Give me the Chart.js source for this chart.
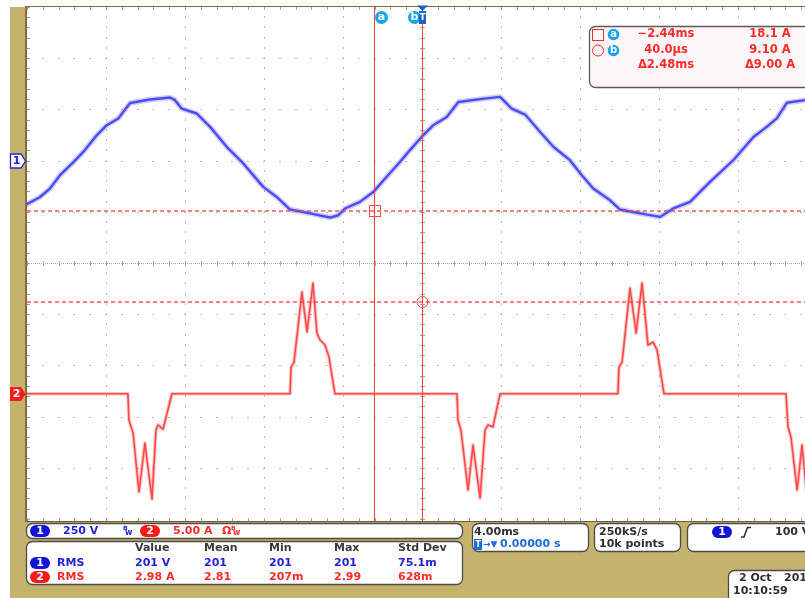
<!DOCTYPE html>
<html>
<head>
<meta charset="utf-8">
<script src="https://cdn.jsdelivr.net/npm/chart.js@4/dist/chart.umd.min.js"></script>
<style>
  html, body { margin: 0; padding: 0; background: #fff; overflow: hidden; }
  canvas { display: block; }
</style>
</head>
<body>
<canvas id="scope" width="805" height="598"></canvas>
<script>
// ---- Acquisition: channel 1 (line voltage, V) against time (ms) ----
const ch1Time = [-20.0, -19.34, -18.84, -18.33, -17.66, -17.15, -16.47, -15.96, -15.38, -14.78,
  -13.77, -12.76, -12.51, -12.17, -11.41, -10.73, -9.89, -9.05, -8.04, -7.36,
  -6.68, -5.67, -4.66, -4.24, -3.90, -3.14, -2.46, -1.79, -1.11, -0.61,
  -0.02, 0.57, 1.25, 1.84, 2.94, 3.95, 4.54, 5.22, 5.97, 6.65,
  7.49, 8.09, 8.67, 9.52, 10.03, 11.04, 12.05, 12.72, 13.57, 14.58,
  15.76, 16.78, 17.45, 17.96, 18.47, 19.39, 20.0];
const ch1Volts = [-209, -174, -133, -68, -6, 45, 126, 175, 208, 283,
  300, 310, 297, 256, 232, 167, 70, -11, -125, -174,
  -235, -254, -274, -263, -230, -198, -149, -76, -3, 54,
  118, 175, 215, 288, 302, 313, 256, 227, 143, 70,
  5, -68, -133, -190, -235, -254, -271, -230, -198, -101,
  5, 118, 167, 208, 284, 297, 302];

// ---- Channel 2 (input current, A) against time (ms) ----
const ch2Time = [-20.0,
  -14.89, -14.84, -14.63, -14.33, -14.03, -13.67, -13.47, -13.37, -13.11, -12.66,
  -6.68, -6.63, -6.48, -6.08, -5.82, -5.52, -5.32, -5.16, -4.91, -4.71, -4.41,
  1.77, 1.82, 1.97, 2.33, 2.58, 2.94, 3.19, 3.34, 3.59, 3.95,
  9.92, 9.97, 10.13, 10.53, 10.84, 11.14, 11.44, 11.70, 11.90, 12.25,
  18.43, 18.53, 18.68, 18.99, 19.24, 19.49, 19.75, 20.0];
const ch2Amps = [0,
  0, -2.60, -3.89, -9.73, -4.88, -10.43, -3.59, -3.09, -3.49, 0,
  0, 2.64, 3.14, 10.07, 6.11, 10.96, 6.01, 5.32, 4.82, 3.63, 0,
  0, -2.60, -3.59, -9.53, -5.08, -10.33, -3.59, -3.09, -3.29, 0,
  0, 2.64, 3.14, 10.47, 6.01, 10.96, 4.82, 5.12, 4.33, 0,
  0, -3.30, -4.29, -9.53, -5.08, -10.23, -3.80, -3.10];

// ---- Cursors (time in ms, level in A on channel 2) ----
const cursorTimes = [-2.44, 0.04];
const cursorAmps = [18.1, 9.10];
const readoutTimes = ['\u22122.44ms', '40.0\u00b5s', '\u03942.48ms'];
const readoutAmps = ['18.1 A', '9.10 A', '\u03949.00 A'];

// ---- Measurement table ----
const measHeaders = ['Value', 'Mean', 'Min', 'Max', 'Std Dev'];
const ch1Meas = ['201 V', '201', '201', '201', '75.1m'];
const ch2Meas = ['2.98 A', '2.81', '207m', '2.99', '628m'];

// ---- Setup readouts ----
const ch1Scale = '250 V';
const ch2Scale = '5.00 A';
const timebase = '4.00ms';
const trigPos = '0.00000 s';
const sampleRate = ['250kS/s', '10k points'];
const trigLevel = '100 V';
const dateDay = '2 Oct';
const dateYear = '2014';
const timeStamp = '10:10:59';

// Horizontal: 4 ms/div, 10 divisions centred on the trigger; window shows up to 19.39 ms
const T_DIV = 4, T_MIN = -20, T_VIEW_MAX = 19.39;

const GOLD = '#c5b36d';
const BROWN = '#8a6b3f';
const BLUE = '#2222dd';
const RED = '#ff2a2a';
const FONT = '"DejaVu Sans", sans-serif';

function pill(ctx, cx, cy, fill, label) {
  ctx.fillStyle = fill;
  ctx.beginPath();
  ctx.roundRect(cx - 10, cy - 6, 20, 12, 6);
  ctx.fill();
  ctx.fillStyle = '#fff';
  ctx.font = 'bold 11px ' + FONT;
  ctx.textAlign = 'center';
  ctx.textBaseline = 'middle';
  ctx.fillText(label, cx, cy + 0.5);
}

function box(ctx, x, y, w, h, r, fill, stroke) {
  ctx.beginPath();
  ctx.roundRect(x, y, w, h, r);
  ctx.fillStyle = fill;
  ctx.fill();
  ctx.lineWidth = 1.3;
  ctx.strokeStyle = stroke;
  ctx.stroke();
}

function bwIcon(ctx, x, y, color) {
  ctx.fillStyle = color;
  ctx.textAlign = 'left';
  ctx.textBaseline = 'middle';
  ctx.font = 'bold 6px ' + FONT;
  ctx.fillText('B', x, y - 3);
  ctx.font = 'bold 8px ' + FONT;
  ctx.fillText('w', x + 2, y + 2);
}

// Bezel and plot background
const bezel = {
  id: 'bezel',
  beforeDraw(chart) {
    const { ctx, chartArea: ca, width, height } = chart;
    ctx.save();
    ctx.fillStyle = '#fff';
    ctx.fillRect(0, 0, width, height);
    ctx.fillStyle = GOLD;
    ctx.fillRect(10, ca.top, width - 10, height - ca.top);
    ctx.fillStyle = '#fff';
    ctx.fillRect(ca.left, ca.top, ca.right - ca.left, ca.bottom - ca.top);
    ctx.fillStyle = BROWN;
    ctx.fillRect(ca.left - 2, ca.top - 1, 2, ca.bottom - ca.top + 2);
    ctx.fillRect(ca.left - 2, ca.top - 1, width, 1);
    ctx.fillStyle = '#6f5a3a';
    ctx.fillRect(ca.left - 2, ca.bottom, width, 1);
    ctx.restore();
  }
};

// Dotted graticule with centre cross and edge ticks
const graticule = {
  id: 'graticule',
  beforeDatasetsDraw(chart) {
    const { ctx, chartArea: ca, scales: { x, div } } = chart;
    ctx.save();
    ctx.beginPath();
    ctx.rect(ca.left, ca.top, ca.right - ca.left, ca.bottom - ca.top);
    ctx.clip();
    const minorX = [];
    for (let m = 0; m <= 50; m++) minorX.push(Math.round(x.getPixelForValue(T_MIN + m * T_DIV / 5)));
    const minorY = [];
    for (let m = -25; m <= 25; m++) minorY.push(Math.round(div.getPixelForValue(m / 5)));

    ctx.fillStyle = '#bcbcbc';
    for (let k = 1; k < 10; k++) {
      if (k === 5) continue;
      const px = Math.round(x.getPixelForValue(T_MIN + k * T_DIV));
      minorY.forEach(py => ctx.fillRect(px, py - 1, 1, 2));
    }
    for (let d = -4; d <= 4; d++) {
      if (d === 0) continue;
      const py = Math.round(div.getPixelForValue(d));
      minorX.forEach(px => ctx.fillRect(px - 1, py, 2, 1));
    }
    // centre cross
    ctx.fillStyle = '#a4a6bd';
    const cy = Math.round(div.getPixelForValue(0));
    const cx = Math.round(x.getPixelForValue(0));
    for (let px = ca.left; px < ca.right; px += 2) ctx.fillRect(px, cy, 1, 1);
    for (let py = ca.top; py < ca.bottom; py += 2) ctx.fillRect(cx, py, 1, 1);
    minorX.forEach(px => ctx.fillRect(px, cy - 2, 1, 5));
    minorY.forEach(py => ctx.fillRect(cx - 2, py, 5, 1));
    // edge ticks
    ctx.fillStyle = '#a0a0a0';
    minorY.forEach(py => ctx.fillRect(ca.left, py, 3, 1));
    minorX.forEach(px => { ctx.fillRect(px, ca.top, 1, 3); ctx.fillRect(px, ca.bottom - 3, 1, 3); });
    ctx.restore();
  }
};

// Cursors, channel markers and the readout panels
const overlay = {
  id: 'overlay',
  afterDatasetsDraw(chart) {
    const { ctx, chartArea: ca, scales: { x, v, a } } = chart;
    ctx.save();
    const xa = Math.round(x.getPixelForValue(cursorTimes[0])) + 0.5;
    const xb = Math.round(x.getPixelForValue(cursorTimes[1])) - 0.5;
    const ya = Math.round(a.getPixelForValue(cursorAmps[0]));
    const yb = Math.round(a.getPixelForValue(cursorAmps[1]));

    ctx.lineWidth = 1;
    ctx.strokeStyle = 'rgba(255,60,60,1)';
    ctx.beginPath();
    ctx.moveTo(xa, ca.top); ctx.lineTo(xa, ca.bottom);
    ctx.moveTo(xb, ca.top); ctx.lineTo(xb, ca.bottom);
    ctx.stroke();
    ctx.setLineDash([4, 3]);
    ctx.lineWidth = 1.5;
    ctx.strokeStyle = 'rgba(255,60,60,0.85)';
    ctx.beginPath();
    ctx.moveTo(ca.left, ya); ctx.lineTo(ca.right, ya);
    ctx.moveTo(ca.left, yb); ctx.lineTo(ca.right, yb);
    ctx.stroke();
    ctx.setLineDash([]);
    ctx.lineWidth = 1;
    ctx.strokeStyle = '#ff4a4a';
    ctx.strokeRect(xa - 5, ya - 5.5, 11, 11);
    ctx.beginPath();
    ctx.arc(xb, yb, 5.5, 0, Math.PI * 2);
    ctx.stroke();

    // cursor flags on top
    ctx.fillStyle = '#14a6e8';
    ctx.beginPath(); ctx.arc(xa + 7, 17.5, 6.5, 0, Math.PI * 2); ctx.fill();
    ctx.beginPath(); ctx.arc(xb - 8, 17.5, 6.5, 0, Math.PI * 2); ctx.fill();
    ctx.fillStyle = '#fff';
    ctx.font = 'bold 11px ' + FONT;
    ctx.textAlign = 'center';
    ctx.textBaseline = 'middle';
    ctx.fillText('a', xa + 7, 17);
    ctx.fillText('b', xb - 8, 17);
    ctx.fillStyle = '#1763c4';
    ctx.fillRect(xb - 3.5, 11, 7, 13);
    ctx.beginPath();
    ctx.moveTo(xb - 5.5, 5.5); ctx.lineTo(xb + 5.5, 5.5); ctx.lineTo(xb, 11); ctx.closePath();
    ctx.fill();
    ctx.fillStyle = '#fff';
    ctx.font = 'bold 9px ' + FONT;
    ctx.fillText('T', xb, 17.5);

    // cursor readout panel
    box(ctx, 589.5, 26.5, 240, 61, 6, '#fff6f9', '#5a5a5a');
    ctx.lineWidth = 1;
    ctx.strokeStyle = RED;
    ctx.strokeRect(592.5, 29.5, 11, 11);
    ctx.beginPath(); ctx.arc(598, 50.5, 5.5, 0, Math.PI * 2); ctx.stroke();
    ctx.fillStyle = '#14a6e8';
    ctx.beginPath(); ctx.arc(613.5, 34.5, 5.8, 0, Math.PI * 2); ctx.fill();
    ctx.beginPath(); ctx.arc(613.5, 50.5, 5.8, 0, Math.PI * 2); ctx.fill();
    ctx.fillStyle = '#fff';
    ctx.font = 'bold 10px ' + FONT;
    ctx.fillText('a', 613.5, 34);
    ctx.fillText('b', 613.5, 50);
    ctx.fillStyle = RED;
    ctx.font = 'bold 11.5px ' + FONT;
    const rowY = [34.5, 50, 65];
    readoutTimes.forEach((t, i) => ctx.fillText(t, 666, rowY[i]));
    readoutAmps.forEach((t, i) => ctx.fillText(t, 770, rowY[i]));

    // channel ground markers on the bezel
    const y1 = Math.round(v.getPixelForValue(0));
    const y2 = Math.round(a.getPixelForValue(0));
    ctx.beginPath();
    ctx.moveTo(10.5, y1 - 7); ctx.lineTo(21, y1 - 7); ctx.lineTo(25.5, y1); ctx.lineTo(21, y1 + 7); ctx.lineTo(10.5, y1 + 7); ctx.closePath();
    ctx.fillStyle = '#fff'; ctx.fill();
    ctx.strokeStyle = '#2424e0'; ctx.lineWidth = 1.3; ctx.stroke();
    ctx.fillStyle = '#2424e0';
    ctx.font = 'bold 11px ' + FONT;
    ctx.fillText('1', 16.5, y1 + 0.5);
    ctx.beginPath();
    ctx.moveTo(10, y2 - 7); ctx.lineTo(21, y2 - 7); ctx.lineTo(25.5, y2); ctx.lineTo(21, y2 + 7); ctx.lineTo(10, y2 + 7); ctx.closePath();
    ctx.fillStyle = '#f51e1e'; ctx.fill();
    ctx.fillStyle = '#fff';
    ctx.fillText('2', 16.5, y2 + 0.5);

    // vertical settings strip
    box(ctx, 26.5, 523.5, 436, 15, 6, '#fff', '#4a4a4a');
    pill(ctx, 40, 531, '#1414d6', '1');
    ctx.textAlign = 'left';
    ctx.textBaseline = 'middle';
    ctx.font = 'bold 11px ' + FONT;
    ctx.fillStyle = BLUE;
    ctx.fillText(ch1Scale, 63, 531);
    bwIcon(ctx, 123, 531, BLUE);
    pill(ctx, 150, 531, '#ff1a1a', '2');
    ctx.textAlign = 'left';
    ctx.font = 'bold 11px ' + FONT;
    ctx.fillStyle = RED;
    ctx.fillText(ch2Scale, 173, 531);
    ctx.fillText('\u03a9', 222, 531);
    bwIcon(ctx, 231, 531, RED);

    // measurement table
    box(ctx, 26.5, 541.5, 436, 43, 6, '#fff', '#4a4a4a');
    const colX = [135, 204, 269, 334, 398];
    ctx.font = 'bold 11px ' + FONT;
    ctx.textAlign = 'left';
    ctx.fillStyle = '#3a3a3a';
    measHeaders.forEach((h, i) => ctx.fillText(h, colX[i], 548.5));
    pill(ctx, 40, 563, '#1414d6', '1');
    pill(ctx, 40, 577, '#ff1a1a', '2');
    ctx.textAlign = 'left';
    ctx.font = 'bold 11px ' + FONT;
    ctx.fillStyle = BLUE;
    ctx.fillText('RMS', 57, 563);
    ch1Meas.forEach((s, i) => ctx.fillText(s, colX[i], 563));
    ctx.fillStyle = RED;
    ctx.fillText('RMS', 57, 577);
    ch2Meas.forEach((s, i) => ctx.fillText(s, colX[i], 577));

    // horizontal settings
    box(ctx, 472.5, 523.5, 116, 28, 6, '#fff', '#4a4a4a');
    ctx.fillStyle = '#2e2e2e';
    ctx.fillText(timebase, 474, 532);
    ctx.fillStyle = '#1e6ad6';
    ctx.fillRect(474, 539, 8, 11);
    ctx.fillStyle = '#fff';
    ctx.font = 'bold 8px ' + FONT;
    ctx.fillText('T', 475.5, 544.5);
    ctx.fillStyle = '#1e6ad6';
    ctx.font = 'bold 9px ' + FONT;
    ctx.fillText('\u2192\u25bc', 483, 544.5);
    ctx.font = 'bold 11px ' + FONT;
    ctx.fillText(trigPos, 500, 544.5);

    box(ctx, 594.5, 523.5, 86, 28, 6, '#fff', '#4a4a4a');
    ctx.fillStyle = '#2e2e2e';
    ctx.fillText(sampleRate[0], 599, 532);
    ctx.fillText(sampleRate[1], 599, 544.5);

    // trigger panel
    box(ctx, 687.5, 523.5, 140, 28, 6, '#fff', '#4a4a4a');
    pill(ctx, 722, 532, '#1414d6', '1');
    ctx.strokeStyle = '#2e2e2e';
    ctx.lineWidth = 1.6;
    ctx.beginPath();
    ctx.moveTo(741, 537); ctx.lineTo(744, 537); ctx.lineTo(747.5, 527.5); ctx.lineTo(751, 527.5);
    ctx.stroke();
    ctx.textAlign = 'left';
    ctx.font = 'bold 11px ' + FONT;
    ctx.fillStyle = '#2e2e2e';
    ctx.fillText(trigLevel, 775, 532);

    // date stamp
    box(ctx, 728.5, 570.5, 100, 40, 6, '#fff', '#4a4a4a');
    ctx.fillStyle = '#2e2e2e';
    ctx.fillText(dateDay, 739, 578);
    ctx.fillText(dateYear, 784, 578);
    ctx.fillText(timeStamp, 733, 591);
    ctx.restore();
  }
};

const ch1Points = ch1Time.map((t, i) => ({ x: t, y: ch1Volts[i] }));
const ch2Points = ch2Time.map((t, i) => ({ x: t, y: ch2Amps[i] }));

new Chart(document.getElementById('scope').getContext('2d'), {
  type: 'line',
  data: {
    datasets: [
      { data: ch1Points, yAxisID: 'v', borderColor: 'rgba(110,110,255,0.32)', borderWidth: 5.5 },
      { data: ch1Points, yAxisID: 'v', borderColor: '#3d3df0', borderWidth: 2.4 },
      { data: ch2Points, yAxisID: 'a', borderColor: 'rgba(255,100,100,0.38)', borderWidth: 3.6 },
      { data: ch2Points, yAxisID: 'a', borderColor: 'rgba(255,45,45,0.95)', borderWidth: 1.6 }
    ]
  },
  options: {
    responsive: false,
    animation: false,
    devicePixelRatio: 1,
    parsing: false,
    normalized: true,
    layout: { padding: { left: 27, top: 7, right: 0, bottom: 77 } },
    plugins: { legend: { display: false }, tooltip: { enabled: false } },
    elements: { point: { radius: 0 }, line: { tension: 0, borderJoinStyle: 'round', borderCapStyle: 'round' } },
    scales: {
      x: { type: 'linear', min: T_MIN, max: T_VIEW_MAX, display: false },
      // channel 1: 250 V/div, ground 2 div above centre
      v: { type: 'linear', axis: 'y', position: 'left', min: -1750, max: 750, display: false },
      // channel 2: ground about 2.6 div below centre
      a: { type: 'linear', axis: 'y', position: 'left', min: -12.6, max: 38.3, display: false },
      // graticule divisions (the bottom border sits slightly below the last division)
      div: { type: 'linear', axis: 'y', position: 'left', min: -5.04, max: 5, display: false }
    }
  },
  plugins: [bezel, graticule, overlay]
});
</script>
</body>
</html>
